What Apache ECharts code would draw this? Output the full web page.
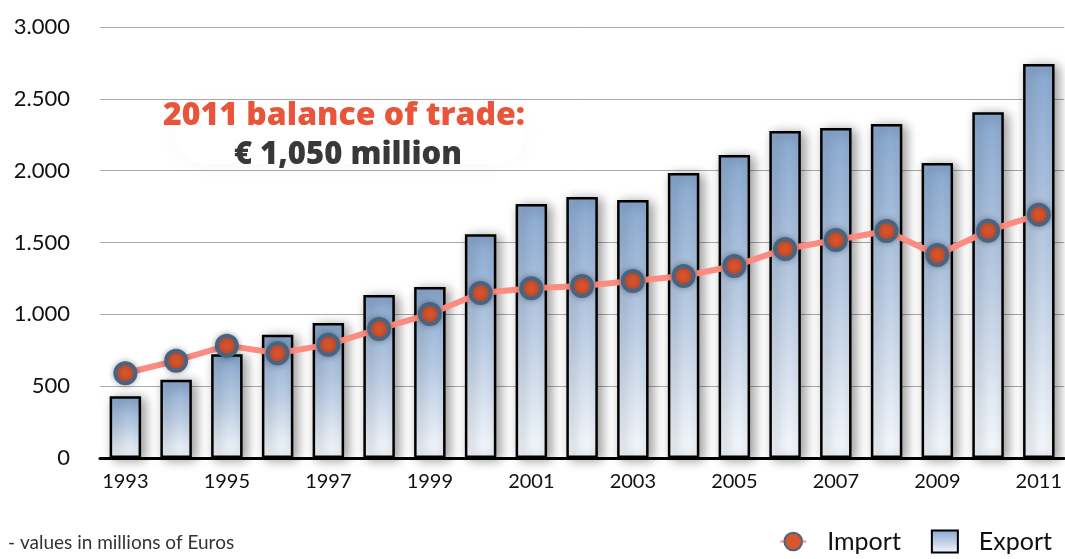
<!DOCTYPE html>
<html lang="en">

<head>
    <meta charset="UTF-8">
    <title>Balance of trade</title>
    <script src="https://cdn.jsdelivr.net/npm/echarts@6/dist/echarts.min.js"></script>
</head>

<body style="margin:0">
    <div id="main" style="width: 1065px;height:559px;"></div>
    <script>
        let years = ['1993', '1994', '1995', '1996', '1997', '1998', '1999', '2000', '2001', '2002',
            '2003', '2004', '2005', '2006', '2007', '2008', '2009', '2010', '2011']
        let exportData = [430, 545, 722, 858, 940, 1135, 1190, 1557, 1768, 1817,
            1796, 1984, 2109, 2276, 2297, 2325, 2053, 2406, 2742]
        let importData = [590, 677, 782, 729, 789, 898, 1002, 1148, 1181, 1197,
            1232, 1267, 1336, 1455, 1517, 1580, 1413, 1582, 1694]
        let yTicks = [0, 500, 1000, 1500, 2000, 2500, 3000]
    </script>
    <script>
        var chartDom = document.getElementById('main');
        var myChart = echarts.init(chartDom);
        var option;

        var font = 'Lato, "Open Sans", sans-serif';
        var boldFont = '"Open Sans", Lato, sans-serif';
        var barFill = new echarts.graphic.LinearGradient(0, 0, 0, 1, [
            { offset: 0, color: '#89a9d0' },
            { offset: 0.5, color: '#bccde4' },
            { offset: 1, color: '#f6f9fc' }
        ]);

        option = {
            textStyle: { fontFamily: font },
            grid: {
                left: 100,
                right: 0,
                top: 27,
                bottom: 101
            },
            legend: {
                right: 8,
                bottom: 0,
                itemGap: 30,
                itemWidth: 26,
                itemHeight: 22,
                textStyle: { fontSize: 25, color: '#111', fontFamily: font, padding: [0, 0, 0, 16] },
                data: [
                    { name: 'Import' },
                    { name: 'Export', icon: 'rect', itemStyle: { color: barFill, borderColor: '#000', borderWidth: 2 } }
                ]
            },
            xAxis: {
                type: 'category',
                data: years,
                axisTick: { show: false },
                axisLine: { lineStyle: { color: '#000', width: 3 } },
                axisLabel: {
                    interval: 1,
                    fontSize: 20,
                    color: '#111',
                    margin: 14
                }
            },
            yAxis: {
                type: 'value',
                min: yTicks[0],
                max: yTicks[yTicks.length - 1],
                interval: 500,
                axisLine: { show: false },
                axisTick: { show: false },
                splitLine: { lineStyle: { color: '#aaa', width: 1 } },
                axisLabel: {
                    fontSize: 22,
                    color: '#111',
                    margin: 30,
                    formatter: function (v) {
                        return String(v).replace(/\B(?=(\d{3})+(?!\d))/g, '.');
                    }
                }
            },
            graphic: [
                {
                    type: 'rect',
                    shape: { x: 175, y: 104, width: 350, height: 60, r: 30 },
                    style: { fill: '#fff', shadowBlur: 25, shadowColor: 'rgba(0,0,0,0.035)' },
                    z: 1
                },
                {
                    type: 'text',
                    x: 344,
                    y: 116,
                    style: {
                        text: '2011 balance of trade:',
                        fill: '#e8553a',
                        font: '800 32px ' + boldFont,
                        align: 'center',
                        verticalAlign: 'middle'
                    },
                    z: 10
                },
                {
                    type: 'text',
                    x: 348,
                    y: 155,
                    style: {
                        text: '€ 1,050 million',
                        fill: '#383838',
                        font: '800 31px ' + boldFont,
                        align: 'center',
                        verticalAlign: 'middle'
                    },
                    z: 10
                },
                {
                    type: 'text',
                    left: 8,
                    top: 533,
                    style: {
                        text: '- values in millions of Euros',
                        fill: '#333',
                        font: '19px ' + font
                    }
                }
            ],
            series: [
                {
                    name: 'Export',
                    type: 'bar',
                    barWidth: '62%',
                    data: exportData,
                    z: 2,
                    itemStyle: {
                        color: barFill,
                        borderColor: '#000',
                        borderWidth: 2.5,
                        shadowBlur: 12,
                        shadowColor: 'rgba(0,0,0,0.4)',
                        shadowOffsetX: 4,
                        shadowOffsetY: 2
                    }
                },
                {
                    name: 'Import',
                    type: 'line',
                    data: importData,
                    z: 3,
                    symbol: 'circle',
                    symbolSize: 20,
                    lineStyle: { color: '#fd8c80', width: 6 },
                    itemStyle: {
                        color: '#d9552e',
                        borderColor: '#476582',
                        borderWidth: 4,
                        shadowBlur: 6,
                        shadowColor: 'rgba(0,0,0,0.3)'
                    }
                }
            ]
        };

        option && myChart.setOption(option);
    </script>
</body>

</html>
